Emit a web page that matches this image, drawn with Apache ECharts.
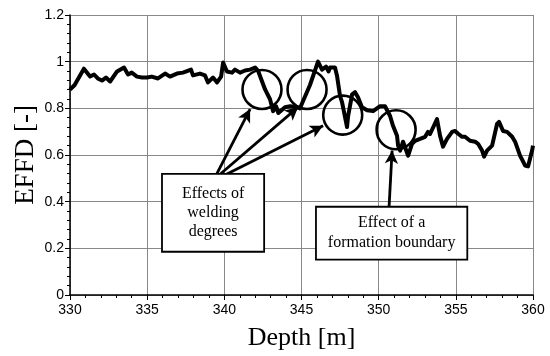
<!DOCTYPE html>
<html>
<head>
<meta charset="utf-8">
<script src="https://cdn.jsdelivr.net/npm/echarts@6/dist/echarts.min.js"></script>
<style>
  html, body { margin: 0; padding: 0; background: #fff; }
  #chart { width: 550px; height: 356px; }
</style>
</head>
<body>
<div id="chart"></div>
<script>
// depth [m] and EFFD
const depth = [
  330.0, 330.3, 330.9, 331.3, 331.56, 331.8, 332.07, 332.33, 332.6, 333.05,
  333.5, 333.76, 334.0, 334.34, 334.67, 335.0, 335.3, 335.7, 336.16, 336.48,
  336.93, 337.32, 337.84, 337.97, 338.42, 338.75, 338.94, 339.27, 339.53, 339.79,
  339.92, 340.17, 340.5, 340.69, 341.02, 341.34, 341.67, 341.99, 342.18, 342.64,
  342.96, 343.16, 343.35, 343.5, 343.93, 344.26, 344.71, 344.9, 345.55, 346.07,
  346.33, 346.59, 346.75, 346.85, 347.17, 347.3, 347.5, 347.63, 347.95, 348.02,
  348.28, 348.47, 348.66, 348.92, 349.25, 349.64, 350.09, 350.41, 350.74, 350.93,
  351.19, 351.26, 351.39, 351.58, 351.7, 351.91, 352.16, 352.36, 352.68, 353.01,
  353.2, 353.33, 353.78, 353.98, 354.17, 354.43, 354.76, 354.95, 355.15, 355.41,
  355.6, 355.92, 356.25, 356.44, 356.7, 356.83, 357.02, 357.35, 357.67, 357.8,
  358.06, 358.32, 358.65, 358.84, 359.16, 359.49, 359.68, 359.94, 360.0
];
const effd = [
  0.88, 0.90, 0.97, 0.936, 0.945, 0.928, 0.919, 0.932, 0.915, 0.958,
  0.975, 0.945, 0.953, 0.936, 0.932, 0.932, 0.936, 0.928, 0.949, 0.936,
  0.949, 0.953, 0.966, 0.941, 0.949, 0.941, 0.911, 0.932, 0.911, 0.936,
  0.996, 0.958, 0.953, 0.966, 0.953, 0.962, 0.966, 0.975, 0.962, 0.881,
  0.839, 0.788, 0.809, 0.78, 0.805, 0.809, 0.805, 0.80, 0.90, 1.0,
  0.966, 0.979, 0.958, 0.975, 0.975, 0.94, 0.852, 0.826, 0.72, 0.767,
  0.86, 0.869, 0.847, 0.805, 0.792, 0.788, 0.809, 0.809, 0.767, 0.725,
  0.682, 0.64, 0.619, 0.657, 0.657, 0.597, 0.648, 0.661, 0.669, 0.678,
  0.699, 0.69, 0.754, 0.682, 0.636, 0.669, 0.699, 0.703, 0.691, 0.678,
  0.678, 0.661, 0.657, 0.648, 0.619, 0.593, 0.619, 0.64, 0.733, 0.742,
  0.703, 0.699, 0.678, 0.657, 0.597, 0.555, 0.551, 0.619, 0.64
];

// circled spots [depth, EFFD]
const circles = [[342.44, 0.881], [345.36, 0.881], [347.67, 0.771], [351.13, 0.708]];

// arrows: [from, to]
const arrows = [
  [[339.46, 0.513], [341.67, 0.797]],
  [[339.65, 0.513], [344.78, 0.805]],
  [[339.85, 0.508], [346.40, 0.725]],
  [[350.67, 0.373], [350.87, 0.619]]
];

// note boxes: [depth, EFFD, text]
const notes = [
  [339.27, 0.352, 'Effects of\nwelding\ndegrees'],
  [350.84, 0.265, 'Effect of a\nformation boundary']
];

const serif = "'Liberation Serif', 'DejaVu Serif', serif";
const sans = "'Liberation Sans', Arial, sans-serif";

const chart = echarts.init(document.getElementById('chart'));
const option = {
  animation: false,
  backgroundColor: '#fff',
  grid: { left: 70, right: 17, top: 15, bottom: 58 },
  xAxis: {
    type: 'value', min: 330, max: 360, interval: 5,
    name: 'Depth [m]', nameLocation: 'middle', nameGap: 30,
    nameTextStyle: { fontFamily: serif, fontSize: 26, color: '#000' },
    axisLine: { lineStyle: { color: '#000', width: 1.5 } },
    axisTick: { length: 5, lineStyle: { color: '#000' } },
    minorTick: { show: true, splitNumber: 5, length: 3, lineStyle: { color: '#000' } },
    axisLabel: { fontFamily: sans, fontSize: 14, color: '#000', margin: 8 },
    splitLine: { show: true, lineStyle: { color: '#888', width: 1 } }
  },
  yAxis: {
    type: 'value', min: 0, max: 1.2, interval: 0.2,
    name: 'EFFD [-]', nameLocation: 'middle', nameGap: 31, nameMoveOverlap: false,
    nameTextStyle: { fontFamily: serif, fontSize: 27, color: '#000' },
    axisLine: { show: true, lineStyle: { color: '#000', width: 1.5 } },
    axisTick: { show: true, length: 5, lineStyle: { color: '#000' } },
    minorTick: { show: true, splitNumber: 5, length: 3, lineStyle: { color: '#000' } },
    axisLabel: { fontFamily: sans, fontSize: 14, color: '#000', margin: 6 },
    splitLine: { show: true, lineStyle: { color: '#888', width: 1 } }
  },
  series: [
    {
      type: 'line',
      data: depth.map((d, i) => [d, effd[i]]),
      showSymbol: false,
      silent: true,
      lineStyle: { color: '#000', width: 4, join: 'round' },
      markLine: {
        silent: true,
        symbol: ['none', 'arrow'],
        symbolSize: [10, 13],
        label: { show: false },
        lineStyle: { color: '#000', width: 2.8, type: 'solid' },
        data: arrows.map(a => [{ coord: a[0] }, { coord: a[1] }])
      },
      z: 3
    },
    {
      type: 'scatter',
      data: circles,
      symbol: 'circle',
      symbolSize: 39,
      silent: true,
      itemStyle: { color: 'rgba(0,0,0,0)', borderColor: '#000', borderWidth: 2.6, opacity: 1 },
      z: 4
    },
    {
      type: 'scatter',
      data: notes.map((n, i) => ({
        value: [n[0], n[1]],
        label: i === 0
          ? { lineHeight: 19, padding: [10, 19, 9, 19] }
          : { lineHeight: 20, padding: [6, 11, 5, 11] }
      })),
      symbolSize: 0,
      silent: true,
      itemStyle: { opacity: 1 },
      label: {
        show: true,
        position: 'inside',
        formatter: p => notes[p.dataIndex][2],
        fontFamily: serif,
        fontSize: 16,
        color: '#000',
        align: 'center',
        backgroundColor: '#fff',
        borderColor: '#000',
        borderWidth: 1.8
      },
      z: 5
    }
  ]
};
chart.setOption(option);
</script>
</body>
</html>
